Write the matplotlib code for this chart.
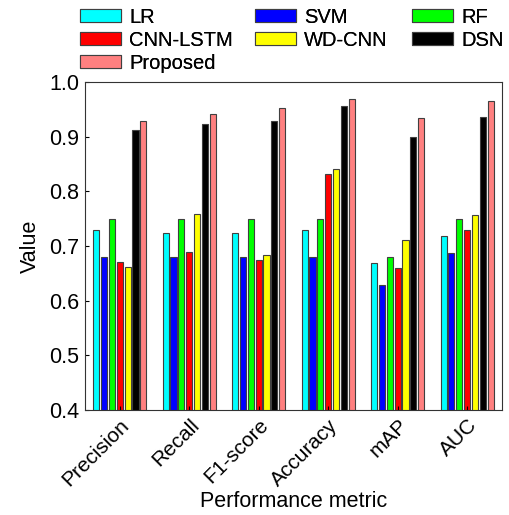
import matplotlib
matplotlib.use("Agg")
import matplotlib.pyplot as plt
import numpy as np

plt.rcParams['font.family'] = ['Liberation Sans', 'DejaVu Sans']

categories = ["Precision", "Recall", "F1-score", "Accuracy", "mAP", "AUC"]
methods = ["LR", "SVM", "RF", "CNN-LSTM", "WD-CNN", "DSN", "Proposed"]
LR = [0.729, 0.724, 0.724, 0.729, 0.668, 0.719]
SVM = [0.680, 0.680, 0.680, 0.680, 0.628, 0.687]
RF = [0.750, 0.750, 0.750, 0.750, 0.680, 0.749]
CNN_LSTM = [0.670, 0.689, 0.675, 0.831, 0.659, 0.729]
WD_CNN = [0.661, 0.759, 0.684, 0.840, 0.710, 0.756]
DSN = [0.912, 0.923, 0.928, 0.955, 0.900, 0.935]
Proposed = [0.928, 0.942, 0.952, 0.968, 0.934, 0.965]
series = [LR, SVM, RF, CNN_LSTM, WD_CNN, DSN, Proposed]
colors = ["#00ffff", "#0000ff", "#00ff00", "#ff0000", "#ffff00", "#000000", "#ff8080"]

fig = plt.figure(figsize=(5.09, 5.15), dpi=100)
ax = fig.add_axes([0.167, 0.204, 0.819, 0.637])

x = np.arange(len(categories))
pitch = 0.113
width = 0.088
handles = []
for i, (vals, c) in enumerate(zip(series, colors)):
    off = (i - 3) * pitch
    b = ax.bar(x + off, vals, width=width, color=c, edgecolor="#404040", linewidth=0.8, label=methods[i])
    handles.append(b)

ax.set_xlim(-0.5, 5.5)
ax.set_ylim(0.4, 1.0)
ax.set_yticks([0.4, 0.5, 0.6, 0.7, 0.8, 0.9, 1.0])
ax.set_yticklabels(["0.4", "0.5", "0.6", "0.7", "0.8", "0.9", "1.0"], fontsize=15.5)
ax.set_xticks(x)
ax.set_xticklabels(categories, rotation=45, ha="right", rotation_mode="anchor", fontsize=15)
ax.tick_params(direction="in", length=3, width=0.8, pad=4)
ax.set_ylabel("Value", fontsize=15.5, labelpad=6)
ax.set_xlabel("Performance metric", fontsize=15.5, labelpad=1)
for s in ax.spines.values():
    s.set_linewidth(0.8)
    s.set_color("#333333")

# legend: three columns placed explicitly
columns = [[0, 3, 6], [1, 4], [2, 5]]
col_x = [80 / 509, 255 / 509, 412 / 509]
for cols, cx in zip(columns, col_x):
    leg = fig.legend([handles[i] for i in cols], [methods[i] for i in cols],
                     loc="upper left", bbox_to_anchor=(cx, 1 - 8 / 515), frameon=False,
                     fontsize=14.5, handlelength=2.05, handleheight=0.62, handletextpad=0.4,
                     labelspacing=0.2, borderpad=0, borderaxespad=0)
    fig.add_artist(leg)

fig.savefig("out.png", dpi=100)
